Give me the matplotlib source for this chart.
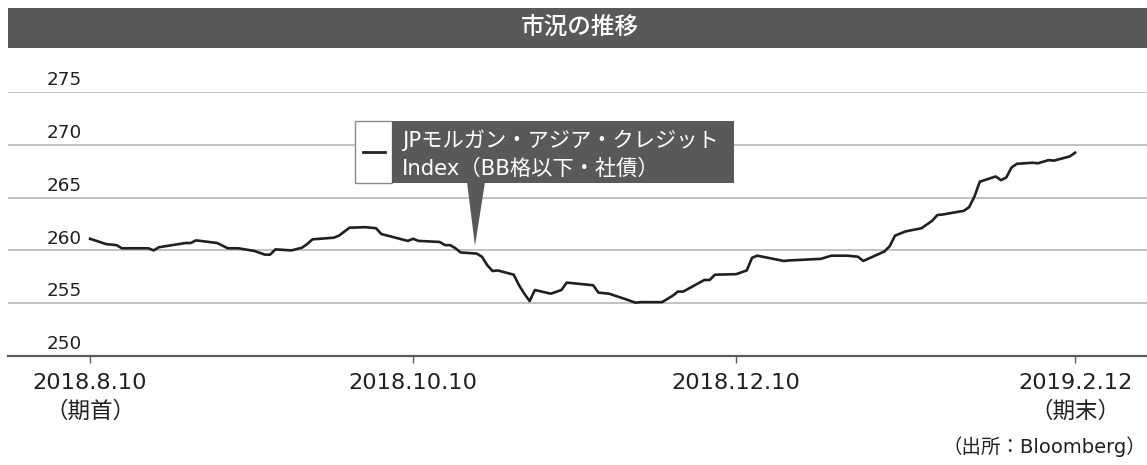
import matplotlib
matplotlib.use("Agg")
import matplotlib.pyplot as plt
from matplotlib.patches import Rectangle, Polygon
import pandas as pd

FAM = ['DejaVu Sans', 'Noto Sans CJK JP']
plt.rcParams['font.family'] = FAM

# ---- data ----
dates = [
    "2018-08-10", "2018-08-13", "2018-08-15", "2018-08-16", "2018-08-21", "2018-08-22",
    "2018-08-23", "2018-08-28", "2018-08-29", "2018-08-30", "2018-09-03", "2018-09-05",
    "2018-09-07", "2018-09-10", "2018-09-12", "2018-09-13", "2018-09-14", "2018-09-17",
    "2018-09-19", "2018-09-20", "2018-09-21", "2018-09-25", "2018-09-26", "2018-09-28",
    "2018-10-01", "2018-10-03", "2018-10-04", "2018-10-09", "2018-10-10", "2018-10-11",
    "2018-10-15", "2018-10-16", "2018-10-17", "2018-10-18", "2018-10-19", "2018-10-22",
    "2018-10-23", "2018-10-24", "2018-10-25", "2018-10-26", "2018-10-29", "2018-10-30",
    "2018-10-31", "2018-11-01", "2018-11-02", "2018-11-05", "2018-11-07", "2018-11-08",
    "2018-11-11", "2018-11-13", "2018-11-14", "2018-11-16", "2018-11-19", "2018-11-21",
    "2018-11-22", "2018-11-26", "2018-11-28", "2018-11-29", "2018-11-30", "2018-12-04",
    "2018-12-05", "2018-12-06", "2018-12-10", "2018-12-12", "2018-12-13", "2018-12-14",
    "2018-12-17", "2018-12-19", "2018-12-20", "2018-12-26", "2018-12-28", "2018-12-31",
    "2019-01-02", "2019-01-03", "2019-01-07", "2019-01-08", "2019-01-09", "2019-01-11",
    "2019-01-14", "2019-01-16", "2019-01-17", "2019-01-18", "2019-01-22", "2019-01-23",
    "2019-01-24", "2019-01-25", "2019-01-28", "2019-01-29", "2019-01-30", "2019-01-31",
    "2019-02-01", "2019-02-04", "2019-02-05", "2019-02-07", "2019-02-08", "2019-02-11",
    "2019-02-12",
]
values = [
    261.1, 260.6, 260.5, 260.2, 260.2, 260.0,
    260.3, 260.7, 260.7, 260.95, 260.7, 260.2,
    260.2, 259.95, 259.6, 259.6, 260.1, 260.0,
    260.25, 260.6, 261.05, 261.2, 261.4, 262.15,
    262.2, 262.1, 261.55, 260.9, 261.1, 260.9,
    260.8, 260.5, 260.5, 260.2, 259.8, 259.7,
    259.4, 258.6, 258.05, 258.1, 257.7, 256.7,
    255.9, 255.2, 256.25, 255.9, 256.25, 256.95,
    256.8, 256.7, 256.0, 255.9, 255.4, 255.05,
    255.1, 255.1, 255.7, 256.1, 256.1, 257.2,
    257.2, 257.7, 257.75, 258.1, 259.3, 259.5,
    259.2, 259.0, 259.05, 259.2, 259.5, 259.5,
    259.4, 259.0, 259.9, 260.4, 261.4, 261.8,
    262.1, 262.8, 263.35, 263.4, 263.75, 264.1,
    265.1, 266.5, 267.0, 266.65, 266.9, 267.85,
    268.2, 268.3, 268.25, 268.55, 268.5, 268.9,
    269.25,
]
yticks = [250, 255, 260, 265, 270, 275]
xtick_dates = ["2018-08-10", "2018-10-10", "2018-12-10", "2019-02-12"]
xtick_labels = ["2018.8.10\n（期首）", "2018.10.10", "2018.12.10", "2019.2.12\n（期末）"]
series_name = "JPモルガン・アジア・クレジット\nIndex（BB格以下・社債）"
title = "市況の推移"
source = "（出所：Bloomberg）"

# ---- figure ----
W, H = 1147, 465
fig = plt.figure(figsize=(W / 100, H / 100), dpi=100)

def fx(px):
    return px / W

def fy(py):
    return 1 - py / H

AX_L, AX_R = 8, 1147
ax = fig.add_axes([fx(AX_L), fy(356), fx(AX_R) - fx(AX_L), fy(92) - fy(356)])
x = pd.to_datetime(dates)
ax.plot(x, values, color="#231f20", lw=1.9, solid_joinstyle="round", zorder=3)

ax.set_ylim(250, 275)
ax.set_xlim(pd.Timestamp("2018-07-25 12:00"), pd.Timestamp("2019-02-25 14:00"))

label_x = (47 - AX_L) / (AX_R - AX_L)
for v in yticks:
    if v != yticks[0]:
        ax.axhline(v, color="#bdbdbd", lw=1.3, zorder=1)
    ax.annotate(str(v), xy=(label_x, v), xycoords=("axes fraction", "data"),
                xytext=(0, 2.0), textcoords="offset points",
                ha="left", va="bottom", fontsize=13.2, color="#231f20", clip_on=False)

ax.set_yticks([])
for s in ["left", "right", "top"]:
    ax.spines[s].set_visible(False)
ax.spines["bottom"].set_color("#5a5a5a")
ax.spines["bottom"].set_linewidth(1.6)

ax.set_xticks(pd.to_datetime(xtick_dates))
ax.set_xticklabels(xtick_labels, fontsize=16.2, color="#231f20", linespacing=1.45, va="top")
ax.tick_params(axis="x", length=5, width=1.0, color="#5a5a5a", pad=7)

# title bar
fig.patches.append(Rectangle((fx(8), fy(48)), fx(1147) - fx(8), fy(8) - fy(48),
                             transform=fig.transFigure, facecolor="#58595b", edgecolor="none"))
fig.text(fx(580), fy(27), title, ha="center", va="center", color="white", fontsize=17,
         family=['Noto Sans CJK JP'], fontweight="medium")

# callout legend
fig.patches.append(Rectangle((fx(355), fy(183)), fx(392) - fx(355), fy(121) - fy(183),
                             transform=fig.transFigure, facecolor="white", edgecolor="#8a8a8a", lw=1.0,
                             zorder=5))
fig.patches.append(Rectangle((fx(392), fy(183)), fx(734) - fx(392), fy(121) - fy(183),
                             transform=fig.transFigure, facecolor="#58595b", edgecolor="none", zorder=5))
fig.patches.append(Polygon([(fx(467), fy(182)), (fx(485), fy(182)), (fx(475), fy(246))],
                           closed=True, transform=fig.transFigure, facecolor="#58595b",
                           edgecolor="none", zorder=5))
fig.lines.append(plt.Line2D([fx(363), fx(385)], [fy(152), fy(152)], transform=fig.transFigure,
                            color="#231f20", lw=2.0, zorder=6))
fig.text(fx(402), fy(154), series_name, ha="left", va="center", color="white", fontsize=15.3,
         linespacing=1.42, zorder=6)

fig.text(fx(1146), fy(447), source, ha="right", va="center", color="#231f20", fontsize=14)

fig.savefig("out.png", dpi=100)
